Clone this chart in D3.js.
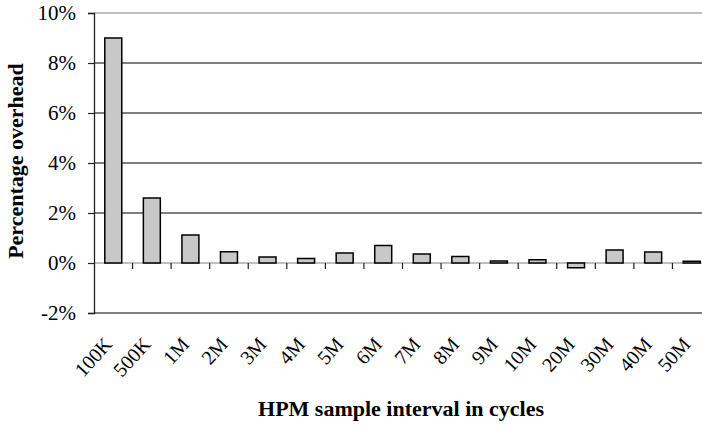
<!DOCTYPE html>
<html>
<head>
<meta charset="utf-8">
<script src="https://cdn.jsdelivr.net/npm/d3@7"></script>
<style>
  body { margin: 0; background: #fff; }
  text { font-family: "Liberation Serif", "Times New Roman", serif; }
</style>
</head>
<body>
<div class="chart"></div>
<script>
var categories = ["100K", "500K", "1M", "2M", "3M", "4M", "5M", "6M", "7M", "8M", "9M", "10M", "20M", "30M", "40M", "50M"];
var overhead = [9.0, 2.6, 1.12, 0.45, 0.24, 0.18, 0.4, 0.7, 0.36, 0.26, 0.08, 0.13, -0.19, 0.52, 0.44, 0.07];
var yTicks = [-2, 0, 2, 4, 6, 8, 10];

var margin = {top: 13, left: 94},
  width = 617,
  height = 300;

var svg = d3.select(".chart").append("svg")
  .attr("width", 702)
  .attr("height", 430);

var g = svg.append("g")
  .attr("transform", "translate(" + margin.left + "," + margin.top + ")");

var x = d3.scaleBand()
  .domain(categories)
  .range([0, width])
  .paddingInner(0.56)
  .paddingOuter(0.28);

var y = d3.scaleLinear()
  .domain([-2, 10])
  .range([height, 0]);

// gridlines
g.selectAll("line.grid")
  .data(yTicks)
  .enter().append("line")
  .attr("class", "grid")
  .attr("x1", 0)
  .attr("x2", width)
  .attr("y1", function(d) { return y(d); })
  .attr("y2", function(d) { return y(d); })
  .attr("stroke", function(d) { return (d == 2 || d == 4 || d == 6 || d == 8) ? "#000" : "#808080"; })
  .attr("stroke-width", function(d) { return d == -2 ? 2 : 1.2; });

// y axis
var yAxis = d3.axisLeft(y)
  .tickValues(yTicks)
  .tickSize(6)
  .tickFormat(function(d) { return d + "%"; });

var ya = g.append("g").call(yAxis);
ya.select(".domain").attr("stroke", "#222").attr("stroke-width", 1.3);
ya.selectAll(".tick line").attr("stroke", "#222").attr("stroke-width", 1.2);
ya.selectAll(".tick text")
  .attr("x", -18)
  .attr("dy", "0.33em")
  .style("font-size", "21px")
  .style("font-family", "Liberation Serif")
  .attr("fill", "#000");

// bars
g.selectAll("rect.bar")
  .data(overhead)
  .enter().append("rect")
  .attr("class", "bar")
  .attr("x", function(d, i) { return x(categories[i]); })
  .attr("width", x.bandwidth())
  .attr("y", function(d) { return y(Math.max(0, d)); })
  .attr("height", function(d) { return Math.abs(y(d) - y(0)); })
  .attr("fill", "#c8c8c8")
  .attr("stroke", "#000")
  .attr("stroke-width", 1.5);

// category ticks on zero line
var step = x.step();
g.selectAll("line.xtick")
  .data(categories)
  .enter().append("line")
  .attr("class", "xtick")
  .attr("x1", function(d, i) { return (i + 1) * step; })
  .attr("x2", function(d, i) { return (i + 1) * step; })
  .attr("y1", y(0))
  .attr("y2", y(0) + 6)
  .attr("stroke", "#222")
  .attr("stroke-width", 1.2);

// category labels
g.selectAll("text.xlabel")
  .data(categories)
  .enter().append("text")
  .attr("class", "xlabel")
  .attr("text-anchor", "end")
  .attr("transform", function(d) {
    var cx = x(d) + x.bandwidth() / 2;
    return "translate(" + cx + "," + (height + 32) + ") rotate(-48)";
  })
  .style("font-size", "20px")
  .text(function(d) { return d; });

// axis titles
svg.append("text")
  .attr("transform", "translate(23,161) rotate(-90)")
  .attr("text-anchor", "middle")
  .style("font-size", "22px")
  .style("font-weight", "bold")
  .text("Percentage overhead");

svg.append("text")
  .attr("x", 401)
  .attr("y", 416)
  .attr("text-anchor", "middle")
  .style("font-size", "22px")
  .style("font-weight", "bold")
  .text("HPM sample interval in cycles");
</script>
</body>
</html>
